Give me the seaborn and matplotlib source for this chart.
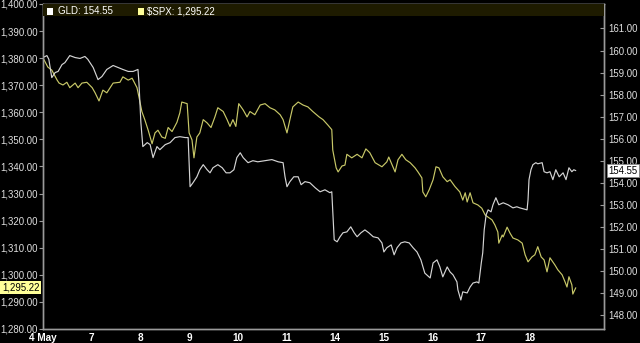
import matplotlib
matplotlib.use("Agg")
import matplotlib.pyplot as plt
import seaborn as sns
from matplotlib.patches import Rectangle
from matplotlib.ticker import FuncFormatter

# ---------------- data ----------------
day_labels = ['4 May', '7', '8', '9', '10', '11', '14', '15', '16', '17', '18']
day_pos = list(range(len(day_labels)))  # trading-day index

spx_t = [0.00, 0.10, 0.18, 0.29, 0.33, 0.41, 0.49, 0.55, 0.66, 0.72, 0.80, 0.90, 1.01, 1.07, 1.15, 1.23,
         1.31, 1.44, 1.58, 1.64, 1.75, 1.83, 1.93, 1.97, 2.03, 2.09, 2.16, 2.24, 2.30, 2.36, 2.44, 2.51,
         2.57, 2.65, 2.75, 2.81, 2.85, 2.96, 3.00, 3.06, 3.10, 3.16, 3.22, 3.29, 3.37, 3.45, 3.53, 3.59,
         3.70, 3.78, 3.84, 3.90, 3.96, 4.02, 4.11, 4.19, 4.25, 4.35, 4.46, 4.56, 4.66, 4.76, 4.87, 4.93,
         5.01, 5.07, 5.13, 5.24, 5.34, 5.44, 5.54, 5.67, 5.75, 5.85, 5.93, 5.95, 6.02, 6.06, 6.14, 6.20,
         6.24, 6.34, 6.45, 6.55, 6.63, 6.71, 6.82, 6.96, 7.06, 7.10, 7.17, 7.23, 7.29, 7.37, 7.45, 7.54,
         7.64, 7.70, 7.78, 7.80, 7.86, 7.93, 8.01, 8.07, 8.13, 8.21, 8.30, 8.36, 8.46, 8.56, 8.62, 8.67,
         8.71, 8.77, 8.83, 8.93, 9.01, 9.08, 9.14, 9.22, 9.28, 9.34, 9.36, 9.43, 9.45, 9.53, 9.59, 9.65,
         9.75, 9.84, 9.90, 9.96, 10.04, 10.10, 10.16, 10.23, 10.29, 10.35, 10.41, 10.51, 10.57, 10.66,
         10.72, 10.76, 10.80, 10.86, 10.88, 10.94]
spx_v = [1380.1, 1376.7, 1375.6, 1371.9, 1370.8, 1370.1, 1371.1, 1369.1, 1370.8, 1369.1, 1370.8, 1371.1,
         1369.1, 1367.2, 1364.2, 1368.2, 1367.2, 1370.8, 1371.1, 1373.1, 1371.9, 1372.6, 1369.1, 1365.7,
         1360.3, 1357.3, 1353.4, 1348.4, 1352.4, 1353.4, 1350.9, 1350.4, 1354.4, 1352.9, 1356.3, 1359.8,
         1363.8, 1363.2, 1352.4, 1349.8, 1343.2, 1350.9, 1352.4, 1357.3, 1356.1, 1354.4, 1358.3, 1361.7,
         1360.3, 1357.3, 1354.8, 1357.3, 1354.8, 1363.2, 1360.9, 1358.3, 1360.3, 1359.1, 1362.7, 1363.2,
         1361.7, 1360.9, 1359.1, 1357.3, 1352.4, 1357.3, 1362.0, 1363.8, 1362.7, 1362.0, 1360.3, 1358.3,
         1357.3, 1355.3, 1353.6, 1346.1, 1339.5, 1338.0, 1340.2, 1340.5, 1344.5, 1343.2, 1344.5, 1343.2,
         1346.5, 1345.1, 1341.4, 1339.9, 1341.7, 1343.5, 1340.5, 1338.0, 1342.5, 1344.5, 1342.5, 1341.4,
         1339.5, 1338.0, 1335.8, 1330.6, 1328.8, 1331.4, 1335.1, 1339.9, 1339.5, 1336.2, 1334.4, 1335.1,
         1332.6, 1330.6, 1327.6, 1330.3, 1326.9, 1330.3, 1326.6, 1325.8, 1324.6, 1322.1, 1321.3, 1320.3,
         1318.4, 1315.8, 1311.7, 1314.7, 1314.0, 1317.6, 1315.4, 1313.6, 1312.9, 1311.7, 1307.4, 1304.8,
         1306.6, 1307.4, 1310.4, 1306.6, 1305.5, 1301.1, 1306.3, 1303.7, 1301.9, 1300.0, 1297.4, 1295.5,
         1299.3, 1296.3, 1292.9, 1295.22]

gld_t = [0.00, 0.08, 0.12, 0.18, 0.25, 0.31, 0.39, 0.45, 0.55, 0.66, 0.76, 0.86, 0.92, 1.03, 1.13, 1.21,
         1.31, 1.44, 1.54, 1.64, 1.75, 1.85, 1.95, 1.97, 2.01, 2.05, 2.14, 2.20, 2.26, 2.34, 2.40, 2.51,
         2.61, 2.71, 2.81, 2.92, 2.98, 3.02, 3.08, 3.16, 3.22, 3.29, 3.37, 3.43, 3.49, 3.59, 3.68, 3.76,
         3.84, 3.92, 3.98, 4.05, 4.11, 4.21, 4.31, 4.41, 4.56, 4.70, 4.83, 4.93, 4.97, 5.01, 5.07, 5.15,
         5.24, 5.30, 5.38, 5.48, 5.59, 5.69, 5.79, 5.89, 5.93, 5.98, 6.04, 6.10, 6.16, 6.24, 6.32, 6.39,
         6.45, 6.53, 6.61, 6.69, 6.78, 6.88, 6.96, 7.00, 7.06, 7.15, 7.21, 7.27, 7.35, 7.43, 7.52, 7.60,
         7.68, 7.76, 7.84, 7.95, 8.01, 8.09, 8.15, 8.21, 8.30, 8.36, 8.42, 8.50, 8.52, 8.58, 8.62, 8.71,
         8.77, 8.83, 8.91, 8.95, 9.00, 9.03, 9.06, 9.10, 9.14, 9.20, 9.24, 9.30, 9.36, 9.45, 9.55, 9.65,
         9.73, 9.79, 9.86, 9.94, 9.96, 9.98, 10.02, 10.06, 10.12, 10.16, 10.25, 10.29, 10.35, 10.41,
         10.47, 10.53, 10.60, 10.68, 10.74, 10.80, 10.86, 10.90, 10.94]
gld_v = [159.68, 159.77, 159.60, 158.77, 159.00, 159.05, 159.36, 159.45, 159.77, 159.68, 159.64, 159.73,
         159.60, 159.23, 158.68, 158.82, 159.14, 159.32, 159.23, 159.14, 159.05, 159.05, 159.14, 158.55,
         156.73, 155.64, 155.82, 155.73, 155.14, 155.64, 155.50, 155.73, 155.82, 156.05, 156.09, 156.05,
         156.05, 153.82, 154.00, 154.27, 154.59, 154.82, 154.59, 154.45, 154.68, 154.82, 154.68, 154.45,
         154.45, 154.59, 155.14, 155.36, 155.14, 154.91, 155.00, 154.95, 155.00, 155.05, 154.95, 154.91,
         154.27, 153.82, 154.05, 154.27, 154.27, 153.91, 154.05, 154.00, 153.77, 153.59, 153.68, 153.55,
         153.59, 151.41, 151.32, 151.55, 151.73, 151.77, 152.00, 151.73, 151.55, 151.73, 151.86, 151.73,
         151.55, 151.50, 151.27, 150.86, 151.05, 151.18, 150.73, 151.05, 151.27, 151.32, 151.27, 151.05,
         150.86, 150.50, 149.90, 149.68, 150.36, 150.50, 150.18, 149.73, 150.18, 149.95, 149.82, 149.50,
         149.14, 148.68, 149.05, 149.00, 149.27, 149.45, 149.50, 149.45, 150.36, 150.82, 151.86, 152.55,
         152.77, 152.68, 153.00, 153.32, 153.00, 153.09, 153.00, 152.86, 152.91, 152.86, 152.82, 152.77,
         153.23, 154.14, 154.59, 154.82, 154.91, 154.86, 154.91, 154.50, 154.45, 154.50, 154.14, 154.59,
         154.27, 154.45, 154.14, 154.68, 154.50, 154.59, 154.55]

spx_ticks = list(range(1280, 1401, 10))
gld_ticks = list(range(148, 162))
spx_last = 1295.22
gld_last = 154.55

# ---------------- style ----------------
sns.set_theme(style="dark")
plt.rcParams['font.family'] = ['Liberation Sans', 'DejaVu Sans']

BG = 'black'
SPINE = '#9a9a9a'
TXT = '#e0e0e0'
SPX_C = '#c8c868'
GLD_C = '#d4d4d4'

W, H = 640, 343
fig = plt.figure(figsize=(W / 100, H / 100), dpi=100, facecolor=BG)
ax = fig.add_axes([43 / W, 14 / H, 561 / W, 325 / H])
ax.set_facecolor(BG)

sns.lineplot(x=spx_t, y=spx_v, ax=ax, color=SPX_C, lw=0.85, estimator=None, sort=False)
ax2 = ax.twinx()
sns.lineplot(x=gld_t, y=gld_v, ax=ax2, color=GLD_C, lw=0.85, estimator=None, sort=False)

ax.set_xlim(0, 11.52)
ax.set_ylim(1280, 1400)
ax2.set_ylim(147.364, 162.11)

ax.set_xticks(day_pos)
ax.set_xticklabels(day_labels, fontweight='bold', fontsize=7.2, color='white')
ax.set_yticks(spx_ticks)
ax.yaxis.set_major_formatter(FuncFormatter(lambda v, p: f"{v:,.2f}"))
ax2.set_yticks(gld_ticks)
ax2.yaxis.set_major_formatter(FuncFormatter(lambda v, p: f"{v:.2f}"))

ax.tick_params(axis='x', direction='in', length=3, width=0.8, color=SPINE, pad=3)
ax.tick_params(axis='y', direction='out', length=3, width=0.8, color=SPINE, pad=0.5,
               labelsize=6.9, labelcolor=TXT)
ax2.tick_params(axis='y', direction='in', length=3, width=0.8, color=SPINE, pad=3.4,
                labelsize=6.9, labelcolor=TXT)
for a in (ax, ax2):
    a.grid(False)
    a.set_xlabel('')
    a.set_ylabel('')
    for s in a.spines.values():
        s.set_visible(True)
        s.set_color(SPINE)
        s.set_linewidth(1.0)

# legend bar at top
bar_h = 12 / 325
ax2.add_patch(Rectangle((0, 1 - bar_h), 1, bar_h, transform=ax2.transAxes,
                        facecolor='#1e1b00', edgecolor='none', zorder=5, clip_on=False))
sq_w, sq_h = 6 / 561, 7 / 325
ax2.add_patch(Rectangle((4 / 561, 1 - 11 / 325), sq_w, sq_h, transform=ax2.transAxes,
                        facecolor='white', edgecolor='none', zorder=6))
ax2.add_patch(Rectangle((95 / 561, 1 - 11 / 325), sq_w, sq_h, transform=ax2.transAxes,
                        facecolor='#ffff99', edgecolor='none', zorder=6))
ax2.text(15 / 561, 1 - 7.5 / 325, f"GLD: {gld_last:.2f}", transform=ax2.transAxes,
         color='white', fontsize=7.0, va='center', ha='left', zorder=7)
ax2.text(104 / 561, 1 - 7.5 / 325, f"$SPX: {spx_last:,.2f}", transform=ax2.transAxes,
         color='white', fontsize=7.0, va='center', ha='left', zorder=7)

# last-value tags on axes
ax.annotate(f"{spx_last:,.2f}", xy=(0, spx_last), xycoords=('axes fraction', 'data'),
            xytext=(-2.6, 0), textcoords='offset points', ha='right', va='center',
            fontsize=6.9, color='black', annotation_clip=False,
            bbox=dict(boxstyle='square,pad=0.15', facecolor='#ffff99', edgecolor='none'))
ax2.annotate(f"{gld_last:.2f}", xy=(1, gld_last), xycoords=('axes fraction', 'data'),
             xytext=(3.0, 0), textcoords='offset points', ha='left', va='center',
             fontsize=6.9, color='black', annotation_clip=False,
             bbox=dict(boxstyle='square,pad=0.15', facecolor='white', edgecolor='#888888', linewidth=0.6))

fig.savefig('out.png', dpi=100, facecolor=BG)
